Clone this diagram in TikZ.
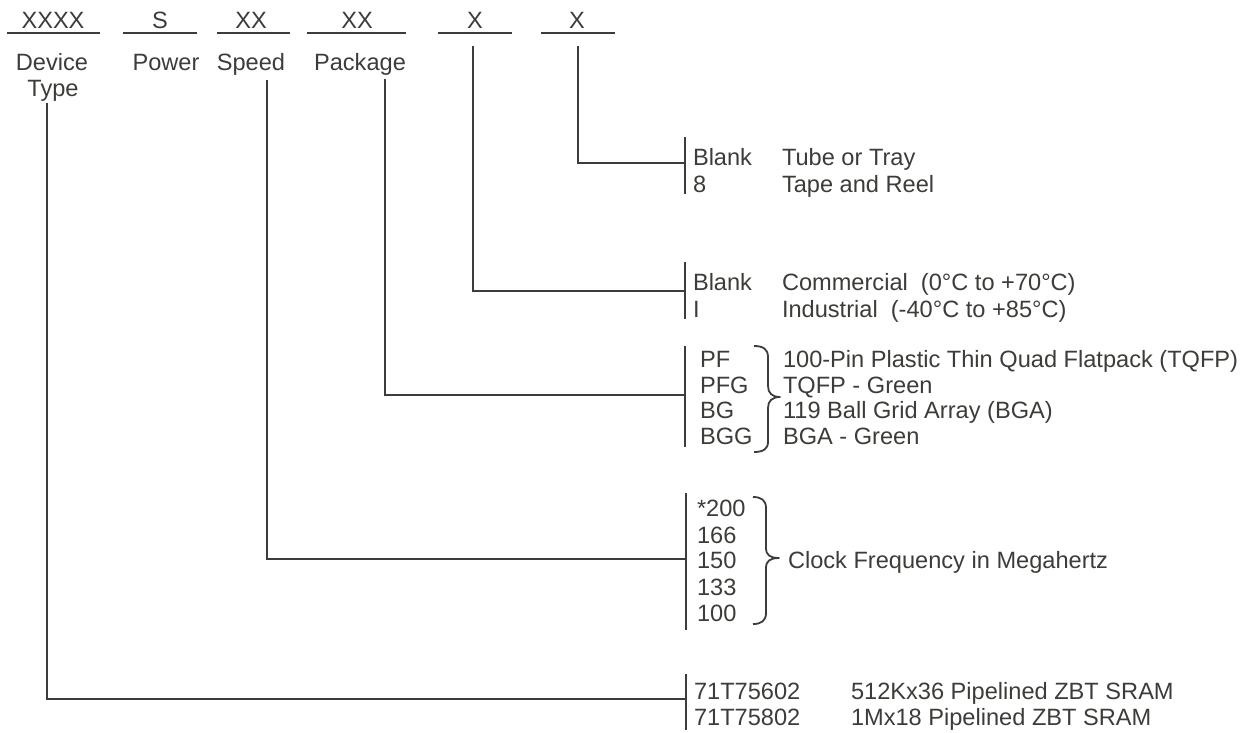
\documentclass[tikz,border=0pt]{standalone}
\usepackage{fontspec}
\setmainfont{Liberation Sans}
\definecolor{ink}{HTML}{3C3C38}
\begin{document}
\begin{tikzpicture}[x=1pt,y=-1pt,
  every node/.style={inner sep=0pt,outer sep=0pt,text=ink,font=\fontsize{23.6}{26}\selectfont},
  txt/.style={anchor=base west},
  ctr/.style={anchor=base},
  ln/.style={draw=ink,line width=2pt},
  bar/.style={draw=ink,line width=2.2pt},
  brc/.style={draw=ink,line width=1.8pt,line join=round}]
\useasboundingbox (0,0) rectangle (1249,732);
% top code row
\node[ctr] (c1) at (53,28) {XXXX};
\node[ctr] (c2) at (160,28) {S};
\node[ctr] (c3) at (251,28) {XX};
\node[ctr] (c4) at (357,28) {XX};
\node[ctr] (c5) at (475,28) {X};
\node[ctr] (c6) at (577,28) {X};
\draw[ln] (7,33) -- (100,33);
\draw[ln] (123,33) -- (197,33);
\draw[ln] (217,33) -- (290,33);
\draw[ln] (307,33) -- (406,33);
\draw[ln] (438,33) -- (512,33);
\draw[ln] (541,33) -- (615,33);
% field labels
\node[ctr] (ldev) at (52,70) {Device};
\node[ctr] (ltype) at (53,96) {Type};
\node[ctr] (lpow) at (166,70) {Power};
\node[ctr] (lspd) at (251,70) {Speed};
\node[ctr] (lpkg) at (360,70) {Package};
% connector starts
\coordinate (sdev) at (47,103);
\coordinate (sspd) at (267,80);
\coordinate (spkg) at (385,79);
\coordinate (stmp) at (473,46);
\coordinate (stap) at (578,46);
% bars
\coordinate (btapA) at (685,137); \coordinate (btapB) at (685,194); \coordinate (btapM) at (685,163);
\coordinate (btmpA) at (685,262); \coordinate (btmpB) at (685,319); \coordinate (btmpM) at (685,291);
\coordinate (bpkgA) at (685,346); \coordinate (bpkgB) at (685,447); \coordinate (bpkgM) at (685,395);
\coordinate (bspdA) at (686,493); \coordinate (bspdB) at (686,630); \coordinate (bspdM) at (686,559);
\coordinate (bdevA) at (686,674); \coordinate (bdevB) at (686,730); \coordinate (bdevM) at (686,699);
\draw[bar] (btapA) -- (btapB);
\draw[bar] (btmpA) -- (btmpB);
\draw[bar] (bpkgA) -- (bpkgB);
\draw[bar] (bspdA) -- (bspdB);
\draw[bar] (bdevA) -- (bdevB);
% connectors
\draw[ln] (stap) |- (btapM);
\draw[ln] (stmp) |- (btmpM);
\draw[ln] (spkg) |- (bpkgM);
\draw[ln] (sspd) |- (bspdM);
\draw[ln] (sdev) |- (bdevM);
% tape / tray
\node[txt] (o1) at (693,165) {Blank};
\node[txt] (o2) at (693,192) {8};
\node[txt] (o1d) at (782,165) {Tube or Tray};
\node[txt] (o2d) at (782,192) {Tape and Reel};
% temperature
\node[txt] (t1) at (693,290) {Blank};
\node[txt] (t2) at (693,317) {I};
\node[txt] (t1d) at (782,290) {Commercial\ \ (0°C to +70°C)};
\node[txt] (t2d) at (782,317) {Industrial\ \ (-40°C to +85°C)};
% package
\node[txt] (p1) at (700,367) {PF};
\node[txt] (p2) at (700,393) {PFG};
\node[txt] (p3) at (700,418) {BG};
\node[txt] (p4) at (700,444) {BGG};
\node[txt] (p1d) at (783,367) {100-Pin Plastic Thin Quad Flatpack (TQFP)};
\node[txt] (p2d) at (783,393) {TQFP - Green};
\node[txt] (p3d) at (783,418) {119 Ball Grid Array (BGA)};
\node[txt] (p4d) at (783,444) {BGA - Green};
\draw[brc] (754,346) .. controls (763,346) and (768,349) .. (768,357) -- (768,386)
  .. controls (768,393) and (772,397) .. (780,397)
  .. controls (772,397) and (768,401) .. (768,408) -- (768,442)
  .. controls (768,449) and (763,452) .. (754,452);
% speed
\node[txt] (s1) at (697,516) {*200};
\node[txt] (s2) at (697,543) {166};
\node[txt] (s3) at (697,568) {150};
\node[txt] (s4) at (697,595) {133};
\node[txt] (s5) at (697,621) {100};
\node[txt] (sd) at (788,568) {Clock Frequency in Megahertz};
\draw[brc] (753,497) .. controls (761,497) and (766,500) .. (766,508) -- (766,548)
  .. controls (766,555) and (770,558) .. (779,558)
  .. controls (770,558) and (766,561) .. (766,568) -- (766,613)
  .. controls (766,621) and (761,624) .. (753,624);
% device
\node[txt] (d1) at (694,699) {71T75602};
\node[txt] (d2) at (694,725) {71T75802};
\node[txt] (d1d) at (851,699) {512Kx36 Pipelined ZBT SRAM};
\node[txt] (d2d) at (851,725) {1Mx18 Pipelined ZBT SRAM};
\end{tikzpicture}
\end{document}
